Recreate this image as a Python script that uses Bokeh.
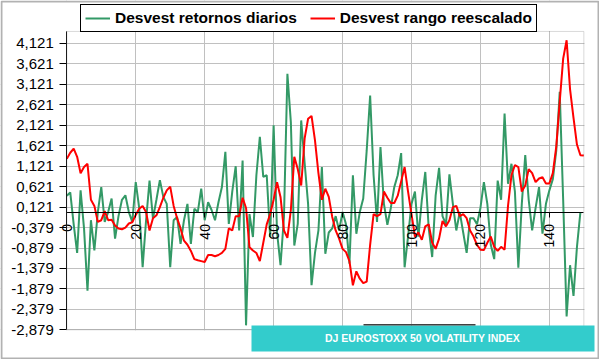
import math
from bokeh.plotting import figure
from bokeh.models import FixedTicker, Legend, LegendItem, BoxAnnotation, Label
from bokeh.embed import file_html
from bokeh.resources import INLINE

# ---- data ----
x_ticks = [0, 20, 40, 60, 80, 100, 120, 140]
y_ticks = [-2.879, -2.379, -1.879, -1.379, -0.879, -0.379, 0.121, 0.621,
           1.121, 1.621, 2.121, 2.621, 3.121, 3.621, 4.121]
y_tick_labels = ["-2,879", "-2,379", "-1,879", "-1,379", "-0,879", "-0,379", "0,121", "0,621",
                 "1,121", "1,621", "2,121", "2,621", "3,121", "3,621", "4,121"]

series_names = ["Desvest retornos diarios", "Desvest rango reescalado"]
title_text = "DJ EUROSTOXX 50 VOLATILITY INDEX"

desvest_retornos = [
    0.40, 0.48, -0.30, -1.00, 0.53, -0.40, -1.92, -0.20, -0.94, 0.00,
    0.61, -0.24, 0.00, 0.33, -0.65, -0.10, 0.30, 0.41, 0.00, -0.24,
    0.73, 0.10, -1.35, -0.20, 0.77, -0.16, 0.30, 0.78, 0.37, 0.20,
    -1.35, -0.20, -0.12, -0.78, -0.20, 0.20, -0.78, 0.08, 0.00, 0.57,
    -0.20, 0.24, 0.05, -0.20, 0.24, 0.61, 1.47, -0.29, 0.50, 1.12,
    -0.45, 1.26, -2.77, -0.05, -0.61, 0.90, 1.84, 0.86, 0.90, -0.61,
    2.12, -0.50, -1.30, -0.12, 3.38, 2.20, -0.82, -0.29, 2.24, 1.20,
    0.20, -1.79, -1.00, -0.45, 1.10, -1.02, -0.50, -0.40, -0.10, -0.45,
    0.00, -0.30, -1.26, 0.90, -0.53, 0.00, 0.33, 1.50, 2.85, 0.90,
    -0.24, 1.59, 0.20, -0.31, 0.10, 0.61, 0.90, 1.44, -1.35, -0.60,
    0.20, 0.50, -0.60, 0.30, 0.98, -0.40, -1.10, 0.40, 1.08, -0.10,
    -0.30, 0.92, 0.20, -0.45, 0.00, -0.50, -1.00, -0.15, -0.15, -0.30,
    0.10, 0.73, 0.20, -0.80, -1.15, 0.77, 0.30, 2.41, 0.69, 1.18,
    0.50, -1.36, 0.20, 1.39, 0.30, -0.45, 0.10, 0.61, -0.53, 0.20,
    0.53, 0.80, 1.50, 2.94, 0.30, -2.55, -1.30, -2.05, -0.85, 0.00,
]

desvest_rango = [
    1.30, 1.45, 1.55, 1.35, 0.95, 1.10, 1.18, 0.30, 0.15, -0.24,
    -0.20, 0.02, -0.20, -0.19, -0.33, -0.40, -0.42, -0.38, -0.28, -0.25,
    -0.07, 0.08, 0.15, 0.00, -0.45, -0.15, -0.08, 0.12, 0.35, 0.53,
    0.62, 0.15, -0.15, -0.40, -0.70, -0.80, -0.95, -1.15, -1.18, -1.20,
    -1.22, -1.05, -1.05, -1.08, -1.05, -1.00, -0.90, -0.40, -0.45, -0.10,
    -0.10, 0.35, 0.10, -0.86, -0.94, -1.00, -1.20, -0.75, -0.30, -0.05,
    0.30, 0.73, 0.37, -0.45, -0.63, 0.05, 1.35, 1.05, 0.65, 1.80,
    2.28, 2.35, 1.75, 0.95, 0.30, 0.57, 0.37, -0.12, -0.45, -0.65,
    -0.90, -0.98, -1.20, -1.79, -1.45, -1.63, -1.74, -1.70, -0.80, -0.05,
    -0.10, -0.05, 0.50, 0.35, 0.22, 0.22, 0.40, 0.75, 1.10, 0.50,
    -0.05, -0.60, -0.50, -0.68, -0.35, -0.30, -0.75, -0.90, -0.65, -0.22,
    -0.35, -0.20, 0.12, 0.15, -0.10, -0.05, -0.15, -0.45, -0.60, -0.80,
    -0.92, -0.93, -0.75, -0.60, -0.85, -0.95, -0.85, -0.92, 0.15, 0.90,
    1.15, 1.10, 0.50, 0.65, 1.05, 0.95, 0.73, 0.82, 0.85, 0.70,
    0.70, 0.95, 1.60, 2.70, 3.75, 4.20, 3.00, 2.30, 1.65, 1.39,
    1.38,
]

x_retornos = list(range(len(desvest_retornos)))
x_rango = list(range(len(desvest_rango)))

FONT = "Liberation Sans"
X_MIN, X_MAX = 0, 150          # plot area, data units
Y_MIN, Y_MAX = -2.879, 4.415

CANVAS = dict(left_units="canvas", right_units="canvas",
              top_units="canvas", bottom_units="canvas")

# The frame covers the whole canvas; both axes sit at fixed positions, so nothing
# (legend, title box, outer border, tick labels) is clipped.
p = figure(width=599, height=359, output_backend="svg", toolbar_location=None,
           x_range=(-19.234, 154.54), y_range=(-3.605, 5.172),
           min_border_left=0, min_border_right=0, min_border_top=0, min_border_bottom=0)
p.background_fill_color = "white"
p.border_fill_color = "white"
p.outline_line_color = None

# y axis at x = 0
p.yaxis.fixed_location = 0
p.yaxis.ticker = FixedTicker(ticks=y_ticks)
p.yaxis.major_label_overrides = dict(zip(y_ticks, y_tick_labels))
p.yaxis.bounds = (Y_MIN, Y_MAX)
p.yaxis.axis_line_color = "black"
p.yaxis.major_tick_line_color = "black"
p.yaxis.major_tick_out = 7
p.yaxis.major_tick_in = 0
p.yaxis.minor_tick_line_color = None
p.yaxis.major_label_text_font = FONT
p.yaxis.major_label_text_font_size = "15px"
p.yaxis.major_label_text_color = "black"
p.yaxis.major_label_standoff = 6

# x axis crossing at y = 0
p.xaxis.fixed_location = 0
p.xaxis.ticker = FixedTicker(ticks=x_ticks)
p.xaxis.bounds = (X_MIN, X_MAX)
p.xaxis.axis_line_color = "black"
p.xaxis.major_tick_line_color = "black"
p.xaxis.major_tick_out = 5
p.xaxis.major_tick_in = 0
p.xaxis.minor_tick_line_color = None
p.xaxis.major_label_orientation = math.pi / 2
p.xaxis.major_label_text_font = FONT
p.xaxis.major_label_text_font_size = "14px"
p.xaxis.major_label_text_color = "black"
p.xaxis.major_label_standoff = 7

p.xgrid.ticker = FixedTicker(ticks=x_ticks)
p.ygrid.ticker = FixedTicker(ticks=y_ticks)
p.grid.grid_line_color = "#C0C0C0"
p.grid.grid_line_width = 1

# white masks (under the data) hiding grid lines outside the plot area
for l, r, t, b in [(0, 65.8, 0, 359), (583.9, 599, 0, 359), (0, 599, 0, 30.5), (0, 599, 329.8, 359)]:
    p.add_layout(BoxAnnotation(left=l, right=r, top=t, bottom=b, fill_color="white",
                               fill_alpha=1, line_color=None, level="underlay", **CANVAS))

r_g = p.line(x_retornos, desvest_retornos, line_color="#339966", line_width=2)
r_r = p.line(x_rango, desvest_rango, line_color="#FF0000", line_width=2)

# plot-area border
p.add_layout(BoxAnnotation(left=X_MIN, right=X_MAX, bottom=Y_MIN, top=Y_MAX,
                           fill_alpha=0, line_color="#808080", line_width=1))

# title box
p.add_layout(BoxAnnotation(left=251, right=594, top=325, bottom=351, fill_color="#33CCCC",
                           fill_alpha=1, line_color=None, **CANVAS))
p.add_layout(BoxAnnotation(left=363, right=475, top=323.5, bottom=325, fill_color="#404040",
                           fill_alpha=1, line_color=None, **CANVAS))
p.add_layout(Label(x=422, y=337, x_units="canvas", y_units="canvas", text=title_text,
                   text_align="center", text_baseline="middle", text_color="white",
                   text_font=FONT, text_font_style="bold", text_font_size="10.5px"))

# outer chart border
p.add_layout(BoxAnnotation(left=1, right=598, top=1, bottom=358, fill_alpha=0,
                           line_color="black", line_width=2, **CANVAS))

legend = Legend(items=[LegendItem(label=series_names[0], renderers=[r_g]),
                       LegendItem(label=series_names[1], renderers=[r_r])],
                orientation="horizontal", location=(80, 327))
legend.padding = 4
legend.spacing = 13
legend.glyph_width = 25
legend.glyph_height = 14
legend.label_height = 14
legend.label_standoff = 5
legend.label_text_font = FONT
legend.label_text_font_style = "bold"
legend.label_text_font_size = "15.5px"
legend.label_text_color = "black"
legend.border_line_color = "black"
legend.border_line_alpha = 1
legend.border_line_width = 1
legend.background_fill_color = "white"
legend.background_fill_alpha = 1
p.add_layout(legend)

open("out.html", "w").write(file_html(p, INLINE))
